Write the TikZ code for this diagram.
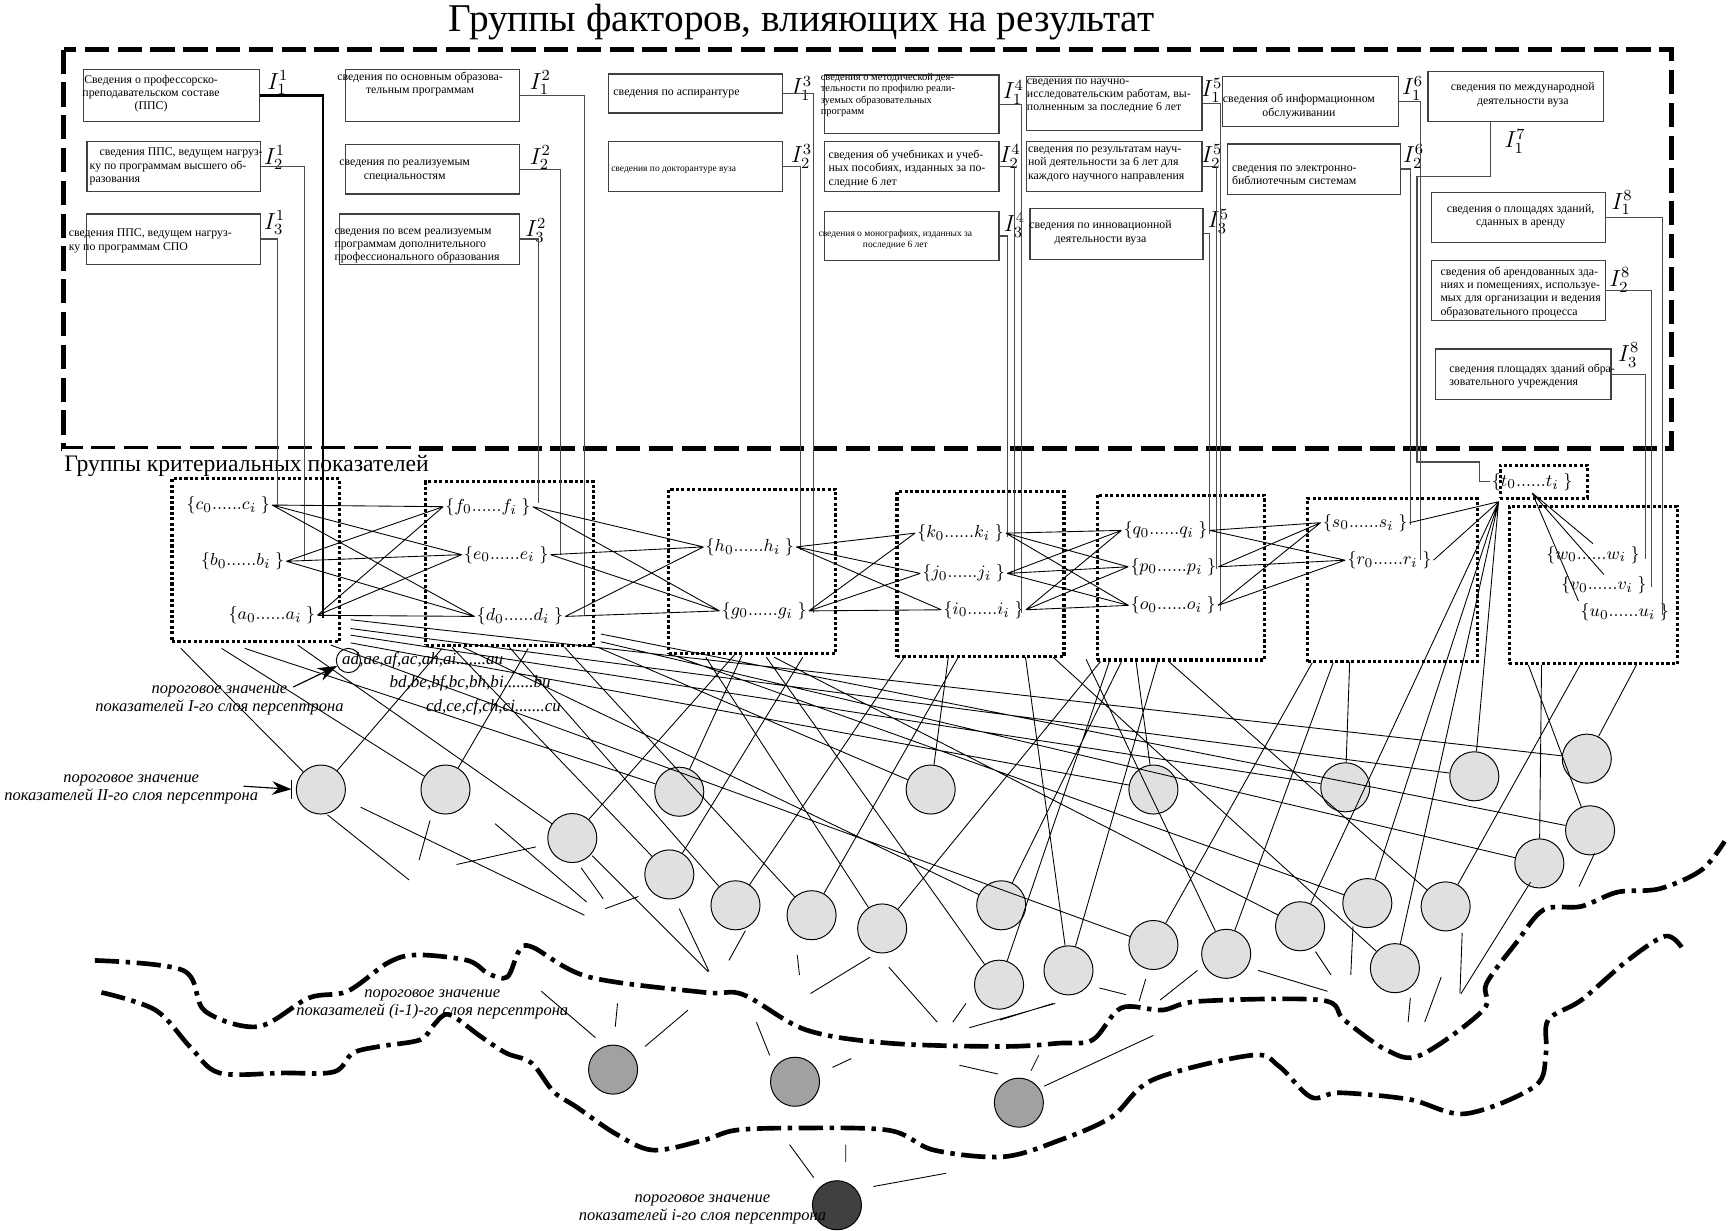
\documentclass[tikz,border=0pt]{standalone}
\usepackage{fontspec}
\setmainfont{Liberation Serif}
\usetikzlibrary{arrows.meta}

\begin{document}
\begin{tikzpicture}[x=0.02cm, y=-0.02cm,
        ibox/.style={draw=black!75, line width=0.6pt, inner sep=0pt},
        itext/.style={font=\fontsize{6.1}{6.9}\selectfont, inner sep=0pt},
        ilabel/.style={font=\fontsize{12}{12}\selectfont, inner sep=0pt},
        feed/.style={draw=black!70, line width=0.6pt},
        grp/.style={draw, line width=1.6pt, dash pattern=on 1.6pt off 1.2pt, inner sep=0pt},
        elem/.style={font=\fontsize{9.5}{9.5}\selectfont, inner sep=1pt},
        neur/.style={circle, draw, line width=0.5pt, fill=black!12, minimum size=0.89cm, inner sep=0pt},
        wire/.style={line width=0.45pt},
        wave/.style={line width=2.4pt, dash pattern=on 0.44cm off 0.12cm on 0.08cm off 0.12cm},
        note/.style={font=\fontsize{8.5}{9.2}\selectfont\itshape, align=center, inner sep=0pt},
        pairs/.style={font=\fontsize{8.8}{8.8}\selectfont\itshape, inner sep=0pt},
        pointer/.style={line width=0.6pt, -{Stealth[length=10pt, width=7pt]}}]
        \useasboundingbox (0,0) rectangle (1568,1116);

        \node[font=\fontsize{20.3}{24}\selectfont, inner sep=0pt] (title) at (727,20) {Группы факторов, влияющих на результат};
        \draw[line width=2.6pt, dash pattern=on 0.44cm off 0.155cm] (58,45) rectangle (1516,407);
        \fill[white] (56,407.3) rectangle (380,411);
        \node[anchor=west, font=\fontsize{12.2}{13}\selectfont, inner sep=0pt] (crit) at (58,423) {Группы критериальных показателей};

        \node[ibox, minimum width=3.18cm, minimum height=0.94cm] (a1) at (155.5,86.5) {};
        \node[ibox, minimum width=3.15cm, minimum height=0.91cm] (a2) at (157.6,151.2) {};
        \node[ibox, minimum width=3.17cm, minimum height=0.91cm] (a3) at (157.3,216.8) {};
        \node[ibox, minimum width=3.16cm, minimum height=0.94cm] (b1) at (392,86.5) {};
        \node[ibox, minimum width=3.16cm, minimum height=0.90cm] (b2) at (392,153.5) {};
        \node[ibox, minimum width=3.26cm, minimum height=0.91cm] (b3) at (389.5,216.8) {};
        \node[ibox, minimum width=3.16cm, minimum height=0.71cm] (c1) at (631,84.8) {};
        \node[ibox, minimum width=3.16cm, minimum height=0.91cm] (c2) at (631,151.2) {};
        \node[ibox, minimum width=3.16cm, minimum height=1.06cm] (d1) at (827,94.5) {};
        \node[ibox, minimum width=3.16cm, minimum height=0.91cm] (d2) at (827,151.2) {};
        \node[ibox, minimum width=3.16cm, minimum height=0.88cm] (d3) at (827,214) {};
        \node[ibox, minimum width=3.18cm, minimum height=0.97cm] (e1) at (1010.5,93.8) {};
        \node[ibox, minimum width=3.18cm, minimum height=0.91cm] (e2) at (1010.5,151.2) {};
        \node[ibox, minimum width=3.14cm, minimum height=0.92cm] (e3) at (1012.5,212) {};
        \node[ibox, minimum width=3.18cm, minimum height=0.91cm] (f1) at (1188.5,92.3) {};
        \node[ibox, minimum width=3.14cm, minimum height=0.91cm] (f2) at (1191.5,153.3) {};
        \node[ibox, minimum width=3.18cm, minimum height=0.90cm] (g1) at (1374.5,87.5) {};
        \node[ibox, minimum width=3.16cm, minimum height=0.91cm] (h1) at (1377,197.4) {};
        \node[ibox, minimum width=3.16cm, minimum height=1.10cm] (h2) at (1377,263.5) {};
        \node[ibox, minimum width=3.18cm, minimum height=0.91cm] (h3) at (1381.5,339.3) {};

        \node[itext, align=center] (a1t) at (137,85) {Сведения о профессорско-\\преподавательском составе\\(ППС)};
        \node[itext, align=left, anchor=west] (a2t) at (81,151) {\hspace*{0.18cm}сведения ППС, ведущем нагруз-\\ку по программам высшего об-\\разования};
        \node[itext, align=left, anchor=west] (a3t) at (62,218.5) {сведения ППС, ведущем нагруз-\\ку по программам СПО};
        \node[itext, align=center] (b1t) at (381,76) {сведения по основным образова-\\тельным программам};
        \node[itext, align=center] (b2t) at (367,155) {сведения по реализуемым\\специальностям};
        \node[itext, align=left, anchor=west] (b3t) at (303,223) {сведения по всем реализуемым\\программам дополнительного\\профессионального образования};
        \node[itext, anchor=west] (c1t) at (556,85) {сведения по аспирантуре};
        \node[itext, anchor=west, font=\fontsize{4.9}{5.5}\selectfont] (c2t) at (554,154) {сведения по докторантуре вуза};
        \node[itext, align=left, anchor=west, font=\fontsize{5.4}{5.9}\selectfont] (d1t) at (744,86) {сведения о методической дея-\\тельности по профилю реали-\\зуемых образовательных\\программ};
        \node[itext, align=left, anchor=west] (d2t) at (751,153) {сведения об учебниках и учеб-\\ных пособиях, изданных за по-\\следние 6 лет};
        \node[itext, align=center, font=\fontsize{4.9}{5.6}\selectfont] (d3t) at (812,217) {сведения о монографиях, изданных за\\последние 6 лет};
        \node[itext, align=left, anchor=west] (e1t) at (931,87) {сведения по научно-\\исследовательским работам, вы-\\полненным за последние 6 лет};
        \node[itext, align=left, anchor=west] (e2t) at (932,149) {сведения по результатам науч-\\ной деятельности за 6 лет для\\каждого научного направления};
        \node[itext, align=center] (e3t) at (998,211) {сведения по инновационной\\деятельности вуза};
        \node[itext, align=center] (f1t) at (1178,96.5) {сведения об информационном\\обслуживании};
        \node[itext, align=left, anchor=west] (f2t) at (1117,159) {сведения по электронно-\\библиотечным системам};
        \node[itext, align=center] (g1t) at (1381,86) {сведения по международной\\деятельности вуза};
        \node[itext, align=center] (h1t) at (1379,196) {сведения о площадях зданий,\\сданных в аренду};
        \node[itext, align=left, anchor=west] (h2t) at (1306,265) {сведения об арендованных зда-\\ниях и помещениях, используе-\\мых для организации и ведения\\образовательного процесса};
        \node[itext, align=left, anchor=west] (h3t) at (1314,341) {сведения площадях зданий обра-\\зовательного учреждения};

        \node[ilabel] (a1l) at (252,75) {$I^1_1$};
        \node[ilabel] (a2l) at (249,143) {$I^1_2$};
        \node[ilabel] (a3l) at (249,202) {$I^1_3$};
        \node[ilabel] (b1l) at (490,75) {$I^2_1$};
        \node[ilabel] (b2l) at (490,143) {$I^2_2$};
        \node[ilabel] (b3l) at (486,209) {$I^2_3$};
        \node[ilabel] (c1l) at (727,80) {$I^3_1$};
        \node[ilabel] (c2l) at (727,142) {$I^3_2$};
        \node[ilabel] (d1l) at (919,84) {$I^4_1$};
        \node[ilabel] (d2l) at (916,142) {$I^4_2$};
        \node[ilabel] (d3l) at (920,204) {$I^4_3$};
        \node[ilabel] (e1l) at (1099,82) {$I^5_1$};
        \node[ilabel] (e2l) at (1099,142) {$I^5_2$};
        \node[ilabel] (e3l) at (1105,201) {$I^5_3$};
        \node[ilabel] (f1l) at (1281,80) {$I^6_1$};
        \node[ilabel] (f2l) at (1282,142) {$I^6_2$};
        \node[ilabel] (g1l) at (1374,128) {$I^7_1$};
        \node[ilabel] (h1l) at (1471,184) {$I^8_1$};
        \node[ilabel] (h2l) at (1469,254) {$I^8_2$};
        \node[ilabel] (h3l) at (1477,322) {$I^8_3$};

        \node[grp, minimum width=3.04cm, minimum height=2.96cm] (grp1) at (232,508) {};
        \node[grp, minimum width=3.05cm, minimum height=2.96cm] (grp2) at (462.3,511) {};
        \node[grp, minimum width=3.03cm, minimum height=2.98cm] (grp3) at (682.3,518) {};
        \node[grp, minimum width=3.03cm, minimum height=2.99cm] (grp4) at (889.2,520.8) {};
        \node[grp, minimum width=3.03cm, minimum height=2.99cm] (grp5) at (1070.8,523.8) {};
        \node[grp, minimum width=3.07cm, minimum height=2.96cm] (grp6) at (1262.8,526) {};
        \node[grp, minimum width=1.58cm, minimum height=0.60cm] (grp7) at (1400,436.8) {};
        \node[grp, minimum width=3.05cm, minimum height=2.86cm] (grp8) at (1444.8,530.5) {};

        \node[elem] (c) at (207,458) {$\{c_0......c_i\ \}$};
        \node[elem] (b) at (220,509) {$\{b_0......b_i\ \}$};
        \node[elem] (a) at (246.5,558) {$\{a_0......a_i\ \}$};
        \node[elem] (f) at (442.5,459.5) {$\{f_0......f_i\ \}$};
        \node[elem] (e) at (459,503) {$\{e_0......e_i\ \}$};
        \node[elem] (d) at (471.5,559) {$\{d_0......d_i\ \}$};
        \node[elem] (h) at (680,496) {$\{h_0......h_i\ \}$};
        \node[elem] (g) at (693,554) {$\{g_0......g_i\ \}$};
        \node[elem] (k) at (871,483.5) {$\{k_0......k_i\ \}$};
        \node[elem] (j) at (874,520) {$\{j_0......j_i\ \}$};
        \node[elem] (i) at (892,553) {$\{i_0......i_i\ \}$};
        \node[elem] (q) at (1057,481) {$\{q_0......q_i\ \}$};
        \node[elem] (p) at (1064,514) {$\{p_0......p_i\ \}$};
        \node[elem] (o) at (1064,549) {$\{o_0......o_i\ \}$};
        \node[elem] (s) at (1238,474) {$\{s_0......s_i\ \}$};
        \node[elem] (r) at (1260,508) {$\{r_0......r_i\ \}$};
        \node[elem] (t) at (1389.5,437) {$\{t_0......t_i\ \}$};
        \node[elem] (w) at (1444.6,503) {$\{w_0......w_i\ \}$};
        \node[elem] (v) at (1454.5,531) {$\{v_0......v_i\ \}$};
        \node[elem] (u) at (1473.5,555) {$\{u_0......u_i\ \}$};

        \coordinate (a1e) at (293,560);
        \coordinate (a2e) at (276,509);
        \coordinate (a3e) at (252,458);
        \coordinate (b1e) at (530,559);
        \coordinate (b2e) at (508,503);
        \coordinate (b3e) at (488,456);
        \coordinate (c1e) at (738,556);
        \coordinate (c2e) at (726,499);
        \coordinate (d1e) at (926,556);
        \coordinate (d2e) at (920,521);
        \coordinate (d3e) at (914,487);
        \coordinate (e1e) at (1107,554);
        \coordinate (e2e) at (1103,516);
        \coordinate (e3e) at (1097,484);
        \coordinate (f1e) at (1288,508);
        \coordinate (f2e) at (1279,476);
        \coordinate (h1e) at (1508,558);
        \coordinate (h2e) at (1498,532);
        \coordinate (h3e) at (1492,507);
        \draw[line width=1.3pt] (a1.east) -| (a1e);
        \draw[feed] (a2.east) -| (a2e);
        \draw[feed] (a3.east) -| (a3e);
        \draw[feed] (b1.east) -| (b1e);
        \draw[feed] (b2.east) -| (b2e);
        \draw[feed] (b3.east) -| (b3e);
        \draw[feed] (c1.east) -| (c1e);
        \draw[feed] (c2.east) -| (c2e);
        \draw[feed] (d1.east) -| (d1e);
        \draw[feed] (d2.east) -| (d2e);
        \draw[feed] (d3.east) -| (d3e);
        \draw[feed] (e1.east) -| (e1e);
        \draw[feed] (e2.east) -| (e2e);
        \draw[feed] (e3.east) -| (e3e);
        \draw[feed] (f1.east) -| (f1e);
        \draw[feed] (f2.east) -| (f2e);
        \draw[feed] (1352,0 |- g1.south) |- (1285,160) |- (1342,419) |- (t.west);
        \draw[feed] (h1.east) -| (h1e);
        \draw[feed] (h2.east) -| (h2e);
        \draw[feed] (h3.east) -| (h3e);

        \draw[wire] (c.east) -- (f.west) (c.east) -- (e.west) (c.east) -- (d.west)
            (b.east) -- (f.west) (b.east) -- (e.west) (b.east) -- (d.west)
            (a.east) -- (f.west) (a.east) -- (e.west) (a.east) -- (d.west);
        \draw[wire] (f.east) -- (h.west) (f.east) -- (g.west) (e.east) -- (h.west)
            (e.east) -- (g.west) (d.east) -- (h.west) (d.east) -- (g.west);
        \draw[wire] (h.east) -- (k.west) (h.east) -- (j.west) (h.east) -- (i.west)
            (g.east) -- (k.west) (g.east) -- (j.west) (g.east) -- (i.west);
        \draw[wire] (k.east) -- (q.west) (k.east) -- (p.west) (k.east) -- (o.west)
            (j.east) -- (q.west) (j.east) -- (p.west) (j.east) -- (o.west)
            (i.east) -- (q.west) (i.east) -- (p.west) (i.east) -- (o.west);
        \draw[wire] (q.east) -- (s.west) (q.east) -- (r.west) (p.east) -- (s.west)
            (p.east) -- (r.west) (o.east) -- (s.west) (o.east) -- (r.west);
        \coordinate (tf) at (1359,455);
        \draw[wire] (s.east) -- (tf) (r.east) -- (tf);
        \draw[wire] (t.south) -- (w.north) (t.south) -- (v.north) (t.south) -- (u.north west);

        \node[neur] (n1) at (291,716) {};
        \node[neur] (n2) at (404,716) {};
        \node[neur] (n3) at (616,718) {};
        \node[neur] (n4) at (844,716) {};
        \node[neur] (n5) at (1046,716) {};
        \node[neur] (n6) at (1220,714) {};
        \node[neur] (n7) at (1337,704) {};
        \node[neur] (n8) at (1439,688) {};
        \node[neur] (n9) at (1442,753) {};
        \node[neur] (n10) at (1396,783) {};
        \node[neur] (n11) at (519,760) {};
        \node[neur] (n12) at (607,793) {};
        \node[neur] (n13) at (667,821) {};
        \node[neur] (n14) at (736,830) {};
        \node[neur] (n15) at (800,842) {};
        \node[neur] (n16) at (908,821) {};
        \node[neur] (n17) at (906,893) {};
        \node[neur] (n18) at (969,880) {};
        \node[neur] (n19) at (1046,857) {};
        \node[neur] (n20) at (1112,865) {};
        \node[neur] (n21) at (1179,840) {};
        \node[neur] (n22) at (1240,819) {};
        \node[neur] (n23) at (1311,822) {};
        \node[neur] (n24) at (1265,878) {};
        \node[neur, fill=black!37] (m1) at (556,970) {};
        \node[neur, fill=black!37] (m2) at (721,981) {};
        \node[neur, fill=black!37] (m3) at (924,1000) {};
        \node[neur, fill=black!75] (z1) at (759,1093) {};

        \coordinate (x1) at (164,588);
        \coordinate (x2) at (401,588);
        \coordinate (x3) at (201,588);
        \coordinate (x4) at (479,588);
        \coordinate (x5) at (222,588);
        \coordinate (x6) at (673,594);
        \coordinate (x7) at (542,587);
        \coordinate (x8) at (860,596);
        \coordinate (x9) at (318,583);
        \coordinate (x10) at (1030,598);
        \coordinate (x11) at (318,576);
        \coordinate (x12) at (1224,600);
        \coordinate (x13) at (318,570);
        \coordinate (x14) at (318,562);
        \coordinate (x15) at (1484,603);
        \coordinate (x16) at (545,575);
        \coordinate (x17) at (1386,603);
        \coordinate (x18) at (545,582);
        \coordinate (x19) at (1398,603);
        \coordinate (x20) at (270,585);
        \coordinate (x21) at (666,594);
        \coordinate (x22) at (410,587);
        \coordinate (x23) at (728,596);
        \coordinate (x24) at (462,587);
        \coordinate (x25) at (820,596);
        \coordinate (x26) at (512,587);
        \coordinate (x27) at (869,596);
        \coordinate (x28) at (640,596);
        \coordinate (x29) at (998,600);
        \coordinate (x30) at (420,587);
        \coordinate (x31) at (1017,600);
        \coordinate (x32) at (695,596);
        \coordinate (x33) at (1006,600);
        \coordinate (x34) at (930,596);
        \coordinate (x35) at (1050,600);
        \coordinate (x36) at (300,585);
        \coordinate (x37) at (1190,601);
        \coordinate (x38) at (985,598);
        \coordinate (x39) at (1209,601);
        \coordinate (x40) at (702,596);
        \coordinate (x41) at (607,593);
        \coordinate (x42) at (1060,600);
        \coordinate (x43) at (1433,603);
        \coordinate (x44) at (955,596);
        \draw[wire] (x1) -- (n1) (x2) -- (n1) (x3) -- (n2) (x4) -- (n2) (x5) -- (n3) (x6) -- (n3)
            (x7) -- (n4) (x8) -- (n4) (x9) -- (n5) (x10) -- (n5) (x11) -- (n6) (x12) -- (n6)
            (x13) -- (n7) (tf) -- (n7) (x14) -- (n8) (x15) -- (n8) (x16) -- (n9) (x17) -- (n9)
            (x18) -- (n10) (x19) -- (n10) (x20) -- (n11) (x21) -- (n11) (x22) -- (n12) (x23) -- (n12)
            (x24) -- (n13) (x25) -- (n13) (x26) -- (n14) (x27) -- (n14) (x28) -- (n15) (x29) -- (n15)
            (x30) -- (n16) (x31) -- (n16) (x32) -- (n17) (x33) -- (n17) (x34) -- (n18) (x35) -- (n18)
            (x36) -- (n19) (x37) -- (n19) (x38) -- (n20) (x39) -- (n20) (x40) -- (n21) (tf) -- (n21)
            (x41) -- (n22) (tf) -- (n22) (x42) -- (n23) (x43) -- (n23) (x44) -- (n24) (tf) -- (n24);

        \draw[wire] (297,739) -- (371,798) (327,732) -- (530,830) (390,744) -- (380,780)
            (414,784) -- (486,768) (449,747) -- (532,818) (527,787) -- (547,815)
            (549,824) -- (579,813) (537,776) -- (642,881) (616,824) -- (643,881)
            (676,844) -- (661,871) (723,866) -- (725,884) (789,868) -- (735,901)
            (491,899) -- (540,941) (560,910) -- (558,931) (624,916) -- (585,949)
            (686,927) -- (698,957) (772,960) -- (755,968) (870,966) -- (905,974)
            (942,957) -- (935,971) (806,877) -- (850,927) (876,910) -- (864,927)
            (879,932) -- (957,910) (716,1038) -- (738,1068) (767,1038) -- (767,1054)
            (792,1076) -- (858,1064) (1432,804) -- (1446,774) (1324,901) -- (1326,846)
            (1292,927) -- (1307,886) (1277,927) -- (1279,905) (1225,884) -- (1227,840)
            (1207,884) -- (1193,863) (1204,899) -- (1141,880) (1052,907) -- (1086,880)
            (1033,908) -- (1039,888) (1021,902) -- (997,896) (955,910) -- (907,925)
            (1046,939) -- (947,985) (1388,800) -- (1325,901);

        \node[note] (nt1) at (199,635) {пороговое значение\\показателей I-го слоя персептрона};
        \node[note] (nt2) at (119,716) {пороговое значение\\показателей II-го слоя персептрона};
        \node[note] (nt3) at (392,911) {пороговое значение\\показателей (i-1)-го слоя персептрона};
        \node[note] (nt4) at (637,1097) {пороговое значение\\показателей i-го слоя персептрона};
        \node[pairs, anchor=west] (pr1) at (310,599) {ad,ae,af,ac,ah,ai.......au};
        \node[pairs, anchor=west] (pr2) at (353,620) {bd,be,bf,bc,bh,bi.......bu};
        \node[pairs, anchor=west] (pr3) at (386,641) {cd,ce,cf,ch,ci.......cu};
        \node[circle, draw, line width=0.5pt, minimum size=0.44cm, inner sep=0pt] (adc) at (316,599) {};
        \coordinate (ar1) at (266,623);
        \coordinate (ar2) at (221,713);
        \draw[pointer] (ar1) -- (adc);
        \draw[pointer, shorten >=0.08cm] (ar2) -- (n1.west);
        \draw[line width=0.6pt] ([xshift=-0.08cm]n1.west) ++(0,-9) -- ++(0,18);

        \draw[wave] plot[smooth, tension=0.55] coordinates {(86,871) (166,880) (186,917) (234,931) (280,905) (315,899) (352,873) (378,866) (424,871) (443,883) (460,886) (471,862) (483,859) (534,886) (639,900) (674,902) (731,934) (806,946) (910,949) (961,946) (991,943) (1017,914) (1054,916) (1088,908) (1198,907) (1219,925) (1257,952) (1288,957) (1345,916) (1348,892) (1375,855) (1400,825) (1434,822) (1467,809) (1505,806) (1543,789) (1564,763)};
        \draw[wave] plot[smooth, tension=0.55] coordinates {(92,900) (141,916) (173,950) (199,973) (257,973) (303,972) (320,955) (344,949) (381,943) (393,930) (407,920) (436,940) (459,955) (482,964) (502,990) (523,1004) (558,1028) (592,1043) (638,1034) (667,1025) (720,1023) (806,1025) (847,1043) (910,1049) (961,1034) (1008,1013) (1046,979) (1135,957) (1160,967) (1189,995) (1215,991) (1278,997) (1329,1010) (1392,985) (1402,955) (1404,925) (1434,907) (1476,871) (1510,849) (1525,859)};
    \end{tikzpicture}
\end{document}
